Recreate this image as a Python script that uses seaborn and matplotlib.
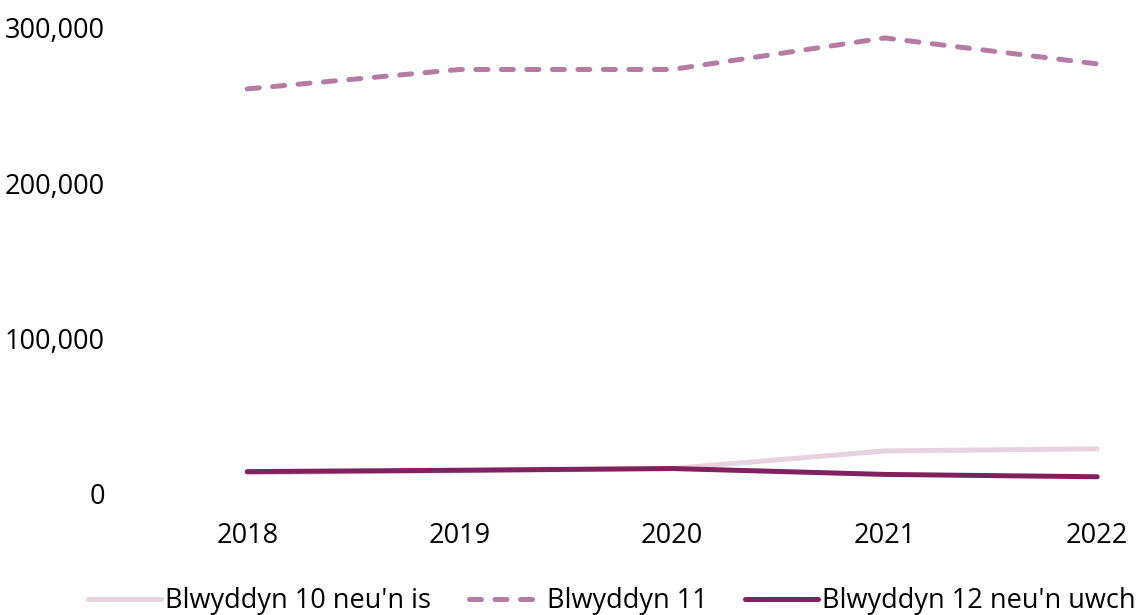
import numpy as np
import pandas as pd
import matplotlib
matplotlib.use("Agg")
import matplotlib.pyplot as plt
import seaborn as sns
from matplotlib.ticker import FuncFormatter

# Data
years = [2018, 2019, 2020, 2021, 2022]
series_names = ["Blwyddyn 10 neu'n is", "Blwyddyn 11", "Blwyddyn 12 neu'n uwch"]
year10_or_below = [13600, 15000, 16400, 27700, 29100]
year11 = [260800, 273300, 273300, 293600, 276900]
year12_or_above = [14400, 15300, 16400, 12600, 11100]

colors = ["#e6d3df", "#b67ba3", "#82215f"]
dashes = [None, (2.4, 2.7), None]

sns.set_theme(style="white")
plt.rcParams['font.family'] = ['Open Sans', 'DejaVu Sans']
plt.rcParams['text.color'] = 'black'
plt.rcParams['xtick.color'] = 'black'
plt.rcParams['ytick.color'] = 'black'

df = pd.DataFrame({
    "year": years * 3,
    "value": year10_or_below + year11 + year12_or_above,
    "series": np.repeat(series_names, len(years)),
})

fig = plt.figure(figsize=(11.42, 6.15), dpi=100)
ax = fig.add_axes([141 / 1142, 1 - 494 / 615, (1142 - 141) / 1142, (494 - 28) / 615])

for name, col, dsh in zip(series_names, colors, dashes):
    sub = df[df["series"] == name]
    sns.lineplot(data=sub, x="year", y="value", ax=ax, color=col,
                 linewidth=3.6, label=name, solid_capstyle="round",
                 dash_capstyle="round")
    line = ax.lines[-1]
    line.set_clip_on(False)
    if dsh is not None:
        line.set_linestyle((0, dsh))

ax.set_xlim(2017.5, 2017.5 + (1142 - 141) / 212.5)
ax.set_ylim(0, 300000)
ax.set_xticks(years)
ax.set_yticks([0, 100000, 200000, 300000])
ax.yaxis.set_major_formatter(FuncFormatter(lambda v, p: f"{int(v):,}"))
ax.tick_params(axis="y", labelsize=19.5, pad=26, length=0, labelcolor="black")
ax.tick_params(axis="x", labelsize=19.5, pad=20, length=0, labelcolor="black")
ax.set_xlabel("")
ax.set_ylabel("")
sns.despine(ax=ax, left=True, bottom=True)

leg = ax.legend(loc="center", bbox_to_anchor=(0.536, 0.022),
                bbox_transform=fig.transFigure, ncol=3, frameon=False,
                fontsize=19.5, handlelength=2.7, handletextpad=0.15,
                columnspacing=1.4, borderaxespad=0.0, borderpad=0.0)
for h in leg.get_lines():
    h.set_linewidth(3.6)

fig.savefig("out.png", dpi=100)
